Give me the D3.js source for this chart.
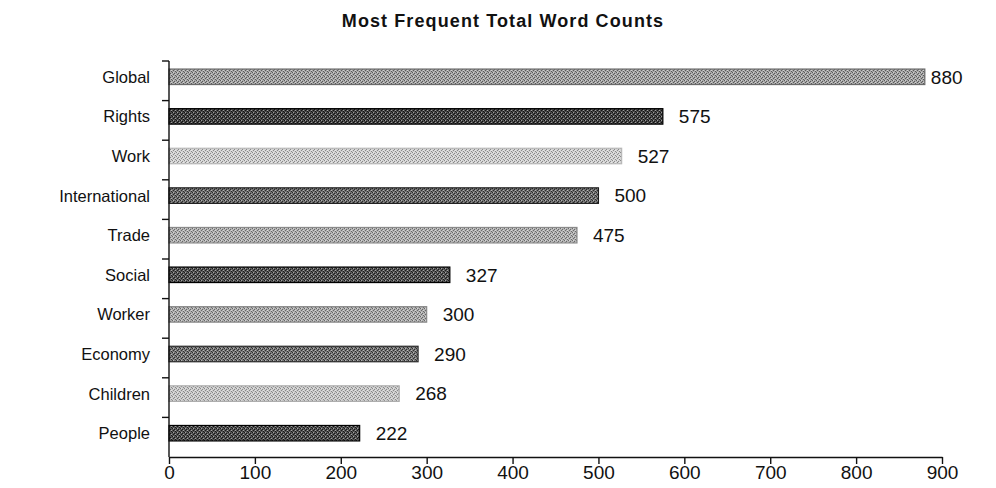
<!DOCTYPE html>
<html>
<head>
<meta charset="utf-8">
<script src="https://cdn.jsdelivr.net/npm/d3@7"></script>
<style>
  html, body { margin: 0; padding: 0; background: #fff; }
  svg text { font-family: "Liberation Sans", Arial, Helvetica, sans-serif; fill: #111; }
</style>
</head>
<body>
<svg id="chart" width="996" height="488"></svg>
<script>
// Word frequency data
const categories = ["Global", "Rights", "Work", "International", "Trade",
                    "Social", "Worker", "Economy", "Children", "People"];
const counts = [880, 575, 527, 500, 475, 327, 300, 290, 268, 222];
const xTicks = [0, 100, 200, 300, 400, 500, 600, 700, 800, 900];

// Halftone shades used for the bars, in order
const shades = [
  { base: "#a8a8a8", dot: "#5a5a5a", edge: "#6a6a6a" },
  { base: "#4a4a4a", dot: "#111111", edge: "#000000" },
  { base: "#d4d4d4", dot: "#8a8a8a", edge: "#b8b8b8" },
  { base: "#737373", dot: "#2a2a2a", edge: "#1a1a1a" },
  { base: "#b4b4b4", dot: "#6a6a6a", edge: "#8a8a8a" },
  { base: "#5a5a5a", dot: "#1a1a1a", edge: "#000000" },
  { base: "#b0b0b0", dot: "#666666", edge: "#8a8a8a" },
  { base: "#7a7a7a", dot: "#2e2e2e", edge: "#2a2a2a" },
  { base: "#cccccc", dot: "#888888", edge: "#aaaaaa" },
  { base: "#555555", dot: "#161616", edge: "#000000" }
];

const svg = d3.select("#chart");
const margin = { left: 169, right: 54, top: 61, bottom: 31 };
const W = 996, H = 488;

const x = d3.scaleLinear().domain([0, 900]).range([margin.left, W - margin.right]);
const y = d3.scaleBand().domain(categories).range([margin.top, H - margin.bottom]).padding(0);
const barH = 15.5;
const lift = 4; // bars sit slightly above the middle of each band

// Patterns giving the bars a printed, stippled look
const defs = svg.append("defs");
shades.forEach((s, i) => {
  const p = defs.append("pattern")
    .attr("id", "shade" + i)
    .attr("patternUnits", "userSpaceOnUse")
    .attr("width", 4).attr("height", 4);
  p.append("rect").attr("width", 4).attr("height", 4).attr("fill", s.base);
  [[0, 0], [2, 1], [1, 2], [3, 3]].forEach(([px, py]) => {
    p.append("rect").attr("x", px).attr("y", py).attr("width", 1).attr("height", 1).attr("fill", s.dot);
  });
  [[1, 0], [3, 2]].forEach(([px, py]) => {
    p.append("rect").attr("x", px).attr("y", py).attr("width", 1).attr("height", 1).attr("fill", "#fff").attr("opacity", 0.45);
  });
});

// Title
svg.append("text")
  .attr("x", 503).attr("y", 27)
  .attr("text-anchor", "middle")
  .style("font-size", "18px").style("font-weight", "bold")
  .style("letter-spacing", "1.1px")
  .text("Most Frequent Total Word Counts");

// Bars
const data = categories.map((c, i) => ({ c, v: counts[i], i }));
svg.append("g").selectAll("rect")
  .data(data).join("rect")
  .attr("x", x(0))
  .attr("y", d => y(d.c) + y.bandwidth() / 2 - lift - barH / 2)
  .attr("width", d => x(d.v) - x(0))
  .attr("height", barH)
  .attr("fill", d => `url(#shade${d.i})`)
  .attr("stroke", d => shades[d.i].edge)
  .attr("stroke-width", 1.2);

// Value labels
svg.append("g").selectAll("text")
  .data(data).join("text")
  .attr("x", d => x(d.v) + (x(d.v) > 880 ? 6 : 16))
  .attr("y", d => y(d.c) + y.bandwidth() / 2 - lift)
  .attr("dy", "0.36em")
  .style("font-size", "19px")
  .text(d => d.v);

// Category labels
svg.append("g").selectAll("text")
  .data(data).join("text")
  .attr("x", 150)
  .attr("y", d => y(d.c) + y.bandwidth() / 2 - lift)
  .attr("dy", "0.36em")
  .attr("text-anchor", "end")
  .style("font-size", "16.5px")
  .text(d => d.c);

// Vertical axis with ticks between categories
const yAxis = svg.append("g");
yAxis.append("line")
  .attr("x1", x(0)).attr("x2", x(0))
  .attr("y1", margin.top).attr("y2", H - margin.bottom)
  .attr("stroke", "#111").attr("stroke-width", 1.4);
yAxis.selectAll("line.tick")
  .data(categories).join("line")
  .attr("class", "tick")
  .attr("x1", x(0) - 7).attr("x2", x(0))
  .attr("y1", d => y(d)).attr("y2", d => y(d))
  .attr("stroke", "#111").attr("stroke-width", 1.4);

// Horizontal axis
const xAxis = svg.append("g")
  .attr("transform", `translate(0,${H - margin.bottom})`)
  .call(d3.axisBottom(x).tickValues(xTicks).tickSize(7).tickSizeOuter(0).tickPadding(2));
xAxis.select(".domain").attr("stroke", "#111").attr("stroke-width", 1.4);
xAxis.selectAll(".tick line").attr("stroke", "#111").attr("stroke-width", 1.4);
xAxis.selectAll(".tick text")
  .style("font-size", "19px")
  .style("font-family", "'Liberation Sans', Arial, Helvetica, sans-serif")
  .attr("fill", "#111");
</script>
</body>
</html>
